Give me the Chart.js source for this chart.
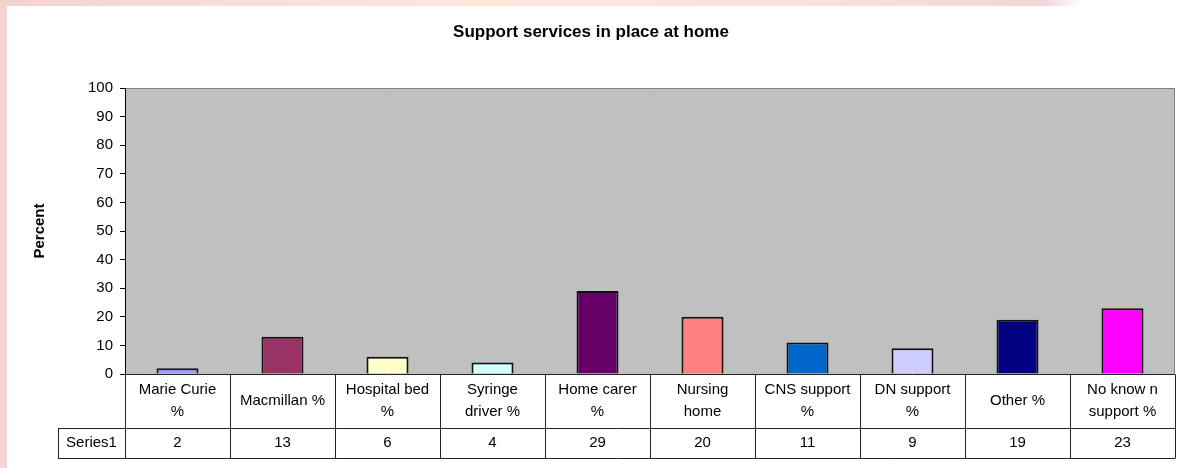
<!DOCTYPE html>
<html>
<head>
<meta charset="utf-8">
<script src="https://cdn.jsdelivr.net/npm/chart.js@4"></script>
<style>
  html, body { margin: 0; padding: 0; }
  body {
    width: 1188px; height: 468px; overflow: hidden; position: relative;
    background: linear-gradient(90deg, #f3d3cf 0%, #fbe9dc 40%, #f6e2d8 70%, #eed8d8 88%, #ffffff 91%);
  }
  #wrap { position: absolute; left: 7px; top: 6px; width: 1181px; height: 462px; background: #fff; }
</style>
</head>
<body>
<div id="wrap"><canvas id="chart" width="1181" height="462"></canvas></div>
<script>
// Chart data
const categories = [
  ["Marie Curie", "%"],
  ["Macmillan %"],
  ["Hospital bed", "%"],
  ["Syringe", "driver %"],
  ["Home carer", "%"],
  ["Nursing", "home"],
  ["CNS support", "%"],
  ["DN support", "%"],
  ["Other %"],
  ["No know n", "support %"]
];
const seriesName = "Series1";
const values = [2, 13, 6, 4, 29, 20, 11, 9, 19, 23];
const barColors = ["#9999FF", "#993366", "#FFFFCC", "#CCFFFF", "#660066",
                   "#FF8080", "#0066CC", "#CCCCFF", "#000080", "#FF00FF"];
const yMin = 0, yMax = 100, yStep = 10;

const FONT = "'Liberation Sans', Arial, sans-serif";

// Grey plot area with thin grey border, like Excel
const plotBackground = {
  id: "plotBackground",
  beforeDraw(chart) {
    const { ctx, chartArea: a } = chart;
    ctx.save();
    ctx.fillStyle = "#fff";
    ctx.fillRect(0, 0, chart.width, chart.height);
    ctx.fillStyle = "#C0C0C0";
    ctx.fillRect(a.left, a.top, a.right - a.left, a.bottom - a.top);
    ctx.strokeStyle = "#808080";
    ctx.lineWidth = 1;
    ctx.beginPath();
    ctx.moveTo(a.left, a.top + 0.5);
    ctx.lineTo(a.right - 0.5, a.top + 0.5);
    ctx.lineTo(a.right - 0.5, a.bottom);
    ctx.stroke();
    ctx.restore();
  }
};

// Data table under the plot, columns taken from the x scale
const dataTable = {
  id: "dataTable",
  afterDraw(chart) {
    const { ctx, chartArea: a } = chart;
    const xs = chart.scales.x;
    const n = categories.length;
    const bounds = [];
    for (let i = 0; i <= n; i++) {
      if (i === 0) bounds.push(a.left);
      else if (i === n) bounds.push(a.right);
      else bounds.push((xs.getPixelForValue(i - 1) + xs.getPixelForValue(i)) / 2);
    }
    const y0 = a.bottom, y1 = a.bottom + 54, y2 = a.bottom + 84;
    const labelLeft = 51;
    const px = v => Math.round(v) + 0.5;

    ctx.save();
    ctx.strokeStyle = "#222";
    ctx.lineWidth = 1;
    ctx.beginPath();
    ctx.moveTo(a.left, px(y0)); ctx.lineTo(a.right, px(y0));
    ctx.moveTo(labelLeft, px(y1)); ctx.lineTo(a.right, px(y1));
    ctx.moveTo(labelLeft, px(y2)); ctx.lineTo(a.right, px(y2));
    ctx.moveTo(px(labelLeft), px(y1)); ctx.lineTo(px(labelLeft), px(y2));
    bounds.forEach(b => { ctx.moveTo(px(b), px(y0)); ctx.lineTo(px(b), px(y2)); });
    ctx.stroke();

    ctx.fillStyle = "#000";
    ctx.font = "15px " + FONT;
    ctx.textAlign = "center";
    ctx.textBaseline = "middle";
    const midHead = (y0 + y1) / 2;
    const midVal = (y1 + y2) / 2;
    for (let i = 0; i < n; i++) {
      const cx = (bounds[i] + bounds[i + 1]) / 2;
      const lines = categories[i];
      const lh = 22;
      lines.forEach((t, k) => {
        ctx.fillText(t, cx, midHead + (k - (lines.length - 1) / 2) * lh);
      });
      ctx.fillText(String(values[i]), cx, midVal);
    }
    ctx.fillText(seriesName, (labelLeft + a.left) / 2, midVal);
    ctx.restore();
  }
};

const ctx = document.getElementById("chart").getContext("2d");
new Chart(ctx, {
  type: "bar",
  data: {
    labels: categories.map(c => c.join(" ")),
    datasets: [{
      label: seriesName,
      data: values,
      backgroundColor: barColors,
      borderColor: "#111",
      borderWidth: 2,
      categoryPercentage: 1.0,
      barPercentage: 0.4
    }]
  },
  options: {
    responsive: false,
    animation: false,
    layout: { padding: { left: 0, right: 13, top: 0, bottom: 94 } },
    plugins: {
      legend: { display: false },
      tooltip: { enabled: false },
      title: {
        display: true,
        text: "Support services in place at home",
        color: "#000",
        font: { family: FONT, size: 17, weight: "bold" },
        padding: { top: 16, bottom: 45.6 }
      }
    },
    scales: {
      x: {
        display: false
      },
      y: {
        min: yMin,
        max: yMax,
        afterFit(scale) { scale.width = 118; },
        ticks: {
          stepSize: yStep,
          color: "#000",
          padding: 7,
          font: { family: FONT, size: 15 }
        },
        grid: {
          drawOnChartArea: false,
          drawTicks: true,
          tickLength: 5,
          color: "#000"
        },
        border: { display: true, color: "#000", width: 1 },
        title: {
          display: true,
          text: "Percent",
          color: "#000",
          font: { family: FONT, size: 15, weight: "bold" },
          padding: { top: 24, bottom: 0 }
        }
      }
    }
  },
  plugins: [plotBackground, dataTable]
});
</script>
</body>
</html>
